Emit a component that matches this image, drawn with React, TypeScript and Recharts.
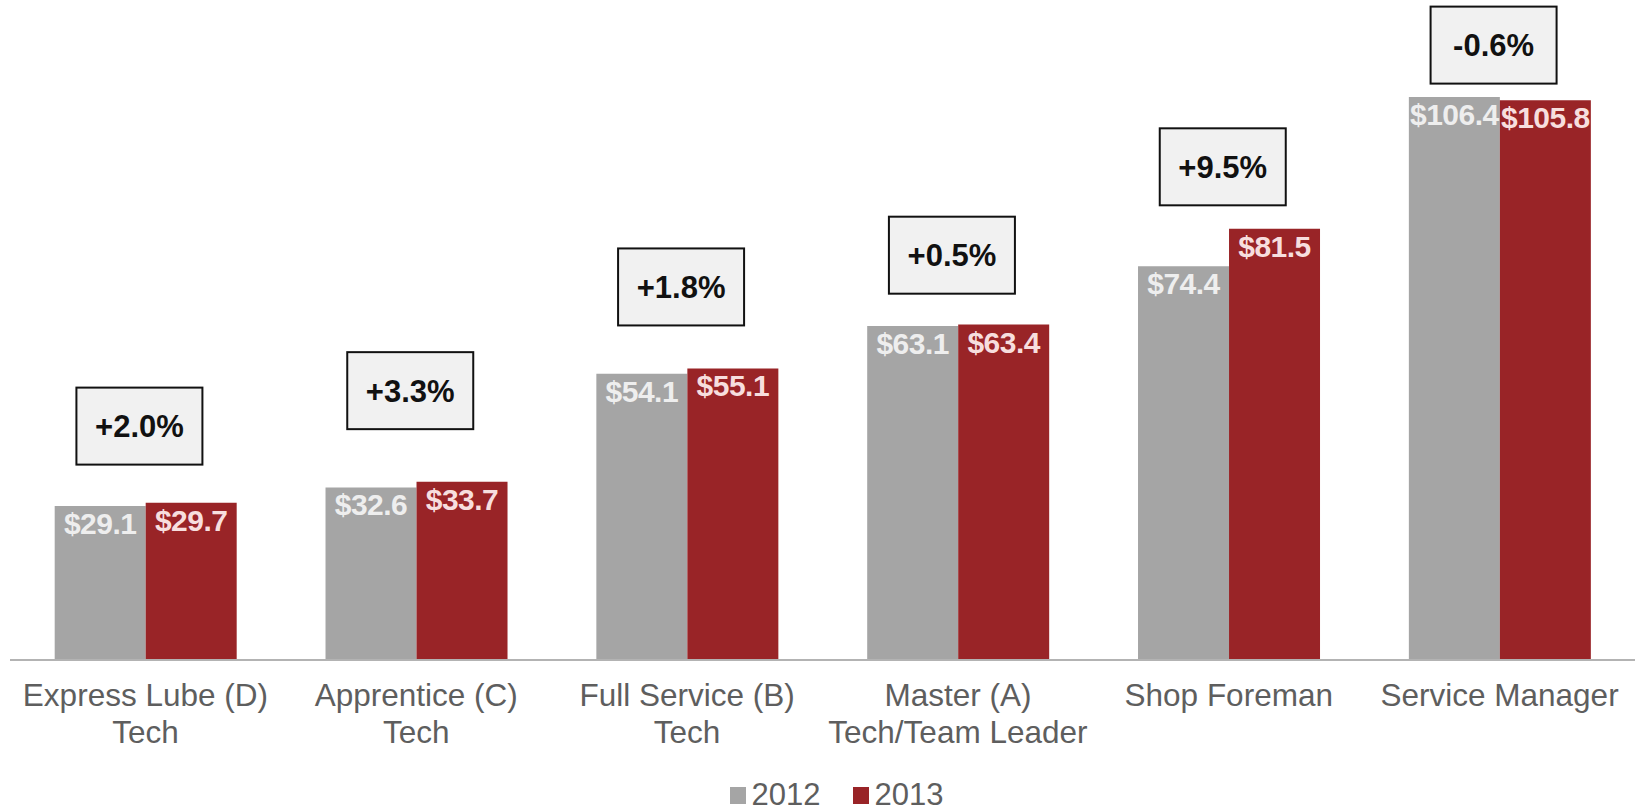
import {
  Bar,
  ComposedChart,
  LabelList,
  Legend,
  Line,
  XAxis,
  YAxis,
} from "recharts";

const categories = [
  "Express Lube (D)\nTech",
  "Apprentice (C)\nTech",
  "Full Service (B)\nTech",
  "Master (A)\nTech/Team Leader",
  "Shop Foreman",
  "Service Manager",
];
const wage2012 = [29.1, 32.6, 54.1, 63.1, 74.4, 106.4];
const wage2013 = [29.7, 33.7, 55.1, 63.4, 81.5, 105.8];
const changeLabels = ["+2.0%", "+3.3%", "+1.8%", "+0.5%", "+9.5%", "-0.6%"];
// where each % callout box sits, in the same $ units as the bars
const calloutLevel = [44.2, 50.9, 70.5, 76.5, 93.2, 116.2];

const data = categories.map((name, i) => ({
  name,
  y2012: wage2012[i],
  y2013: wage2013[i],
  change: changeLabels[i],
  callout: calloutLevel[i],
}));

const FONT = "'Liberation Sans', Arial, sans-serif";
const GRAY = "#a5a5a5";
const RED = "#992427";

function CategoryTick({ x, y, payload }: any) {
  const lines = String(payload.value).split("\n");
  return (
    <text
      x={x}
      y={y + 46}
      textAnchor="middle"
      fill="#5e5e5e"
      fontFamily={FONT}
      fontSize={31.5}
    >
      {lines.map((l, i) => (
        <tspan key={i} x={x} dy={i === 0 ? 0 : 37}>
          {l}
        </tspan>
      ))}
    </text>
  );
}

function valueLabel(color: string) {
  return (props: any) => {
    const { x, y, width, value } = props;
    return (
      <text
        x={x + width / 2}
        y={y + 28}
        textAnchor="middle"
        fill={color}
        fontFamily={FONT}
        fontWeight="bold"
        fontSize={30}
        letterSpacing={-0.5}
      >
        ${Number(value).toFixed(1)}
      </text>
    );
  };
}

function Callout(props: any) {
  const { cx, cy, payload, index } = props;
  if (cx == null || cy == null) return <g key={index} />;
  const w = 126;
  const h = 77;
  return (
    <g key={`c${index}`}>
      <rect
        x={cx - 6 - w / 2}
        y={cy - h / 2}
        width={w}
        height={h}
        fill="#f1f1f1"
        stroke="#111"
        strokeWidth={2}
      />
      <text
        x={cx - 6}
        y={cy + 11}
        textAnchor="middle"
        fill="#111"
        fontFamily={FONT}
        fontWeight="bold"
        fontSize={31}
      >
        {payload.change}
      </text>
    </g>
  );
}

function LegendBox() {
  const item = (color: string, label: string) => (
    <span style={{ display: "inline-flex", alignItems: "center", marginRight: 32 }}>
      <span style={{ width: 16, height: 17, background: color, marginRight: 6 }} />
      <span>{label}</span>
    </span>
  );
  return (
    <div
      style={{
        position: "relative",
        top: 6,
        display: "flex",
        justifyContent: "center",
        paddingLeft: 60,
        fontFamily: FONT,
        fontSize: 31,
        color: "#5e5e5e",
        lineHeight: "40px",
      }}
    >
      {item(GRAY, "2012")}
      {item(RED, "2013")}
    </div>
  );
}

export default function App() {
  return (
    <div style={{ position: "absolute", left: 0, top: 0, background: "#fff" }}>
      <ComposedChart
        width={1636}
        height={809}
        data={data}
        margin={{ top: 25, right: 1, bottom: 0, left: 10 }}
        barGap={0}
        barCategoryGap="16.5%"
      >
        <XAxis
          dataKey="name"
          height={109}
          interval={0}
          tickLine={false}
          tickSize={0}
          tickMargin={0}
          axisLine={{ stroke: "#b3b3b3", strokeWidth: 2 }}
          tick={<CategoryTick />}
        />
        <YAxis hide domain={[0, 120]} />
        <Legend
          verticalAlign="bottom"
          content={<LegendBox />}
          wrapperStyle={{ height: 40 }}
        />
        <Bar dataKey="y2012" fill={GRAY} isAnimationActive={false}>
          <LabelList dataKey="y2012" content={valueLabel("#eeeeee")} />
        </Bar>
        <Bar dataKey="y2013" fill={RED} isAnimationActive={false}>
          <LabelList dataKey="y2013" content={valueLabel("#f7dede")} />
        </Bar>
        <Line
          dataKey="callout"
          stroke="none"
          dot={Callout}
          activeDot={false}
          legendType="none"
          isAnimationActive={false}
        />
      </ComposedChart>
    </div>
  );
}
